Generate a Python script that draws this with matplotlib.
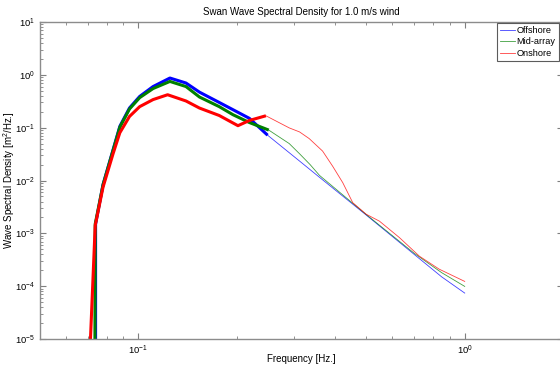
import matplotlib
matplotlib.use("Agg")
import matplotlib.pyplot as plt
from matplotlib.ticker import LogLocator, NullFormatter

plt.rcParams['font.family'] = ['Liberation Sans', 'DejaVu Sans']
plt.rcParams['mathtext.fontset'] = 'custom'
plt.rcParams['mathtext.rm'] = 'Liberation Sans'

# ---- data (thick: modelled part, thin: tail) ----
f_off = [0.0740, 0.0740, 0.0780, 0.0837, 0.0878, 0.0940, 0.1010, 0.1110, 0.1250,
         0.1400, 0.1540, 0.1770, 0.1950, 0.2190, 0.2490]
s_off = [1e-7, 1.5e-3, 8.4e-3, 0.038, 0.106, 0.236, 0.39, 0.60, 0.87,
         0.70, 0.47, 0.30, 0.219, 0.150, 0.072]
f_mid = [0.0736, 0.0738, 0.0780, 0.0837, 0.0878, 0.0940, 0.1010, 0.1110, 0.1250,
         0.1400, 0.1540, 0.1770, 0.1950, 0.2190, 0.2510]
s_mid = [1e-6, 1.5e-3, 8.3e-3, 0.037, 0.102, 0.226, 0.37, 0.55, 0.75,
         0.60, 0.38, 0.25, 0.176, 0.125, 0.090]
f_on = [0.0708, 0.0738, 0.0780, 0.0837, 0.0878, 0.0940, 0.1010, 0.1110, 0.1230,
        0.1400, 0.1540, 0.1770, 0.2020, 0.2190, 0.2460]
s_on = [3e-6, 1.4e-3, 7.5e-3, 0.032, 0.080, 0.163, 0.25, 0.34, 0.42,
        0.32, 0.235, 0.17, 0.109, 0.137, 0.168]

ft_off = [0.2490, 0.3120, 0.3590, 0.5000, 0.7000, 0.8500, 1.0000]
st_off = [0.072, 0.0233, 0.0115, 2.2e-3, 4.0e-4, 1.5e-4, 7.4e-5]
ft_mid = [0.2510, 0.2900, 0.3120, 0.3360, 0.3590, 0.5000, 0.7000, 0.8500, 1.0000]
st_mid = [0.090, 0.050, 0.032, 0.020, 0.0125, 2.25e-3, 4.2e-4, 1.8e-4, 9.9e-5]
ft_on = [0.2460, 0.2900, 0.3120, 0.3340, 0.3670, 0.3940, 0.4230, 0.4540, 0.4990,
         0.5480, 0.6310, 0.7260, 0.8350, 1.0000]
st_on = [0.168, 0.099, 0.083, 0.062, 0.036, 0.0186, 9.1e-3, 3.8e-3, 2.3e-3,
         1.7e-3, 8.3e-4, 3.7e-4, 2.1e-4, 1.23e-4]

labels = ['Offshore', 'Mid-array', 'Onshore']
colors = ['#0000ff', '#008000', '#ff0000']

fig = plt.figure(figsize=(5.6, 3.7), dpi=100)
ax = fig.add_axes([40/560, 31/370, 523/560, 317/370])

thick = [(f_off, s_off), (f_mid, s_mid), (f_on, s_on)]
thin = [(ft_off, st_off), (ft_mid, st_mid), (ft_on, st_on)]
for (ft, st), c, lab in zip(thin, colors, labels):
    ax.plot(ft, st, color=c, lw=0.6, alpha=0.75, label=lab)
for (f, s), c in zip(thick, colors):
    ax.plot(f, s, color=c, lw=2.2, solid_joinstyle='round', solid_capstyle='butt')

ax.set_xscale('log')
ax.set_yscale('log')
ax.set_xlim(0.05, 2.0)
ax.set_ylim(1e-5, 10)

ax.xaxis.set_major_locator(LogLocator(base=10))
ax.xaxis.set_minor_locator(LogLocator(base=10, subs=range(2, 10)))
ax.yaxis.set_major_locator(LogLocator(base=10))
ax.yaxis.set_minor_locator(LogLocator(base=10, subs=range(2, 10)))
ax.xaxis.set_minor_formatter(NullFormatter())
ax.yaxis.set_minor_formatter(NullFormatter())
ax.xaxis.get_offset_text().set_visible(False)
ax.yaxis.get_offset_text().set_visible(False)

ax.tick_params(which='both', direction='in', top=True, right=True,
               labelsize=6.8, color='#7f7f7f')
ax.tick_params(which='major', length=4, pad=3.5)
ax.tick_params(which='minor', length=2.5)
for sp in ax.spines.values():
    sp.set_color('#8c8c8c')
    sp.set_linewidth(1.0)

ax.set_title('Swan Wave Spectral Density for 1.0 m/s wind', fontsize=7, pad=5)
ax.set_xlabel('Frequency [Hz.]', fontsize=7)
ax.set_ylabel('Wave Spectral Density [m$^2$/Hz.]', fontsize=7)
ax.xaxis.set_label_coords(0.5, -(354 - 339) / 317)
ax.yaxis.set_label_coords(-(40 - 17) / 523, 0.5)

leg = ax.legend(loc='upper left', bbox_to_anchor=(497/560, 1 - 23/370),
                bbox_transform=fig.transFigure, borderaxespad=0.0,
                fontsize=6.6, frameon=True, fancybox=False,
                handlelength=1.6, labelspacing=0.25,
                borderpad=0.35, handletextpad=0.2)
leg.get_frame().set_edgecolor('#333333')
leg.get_frame().set_linewidth(0.8)

fig.savefig('out.png', dpi=100)
